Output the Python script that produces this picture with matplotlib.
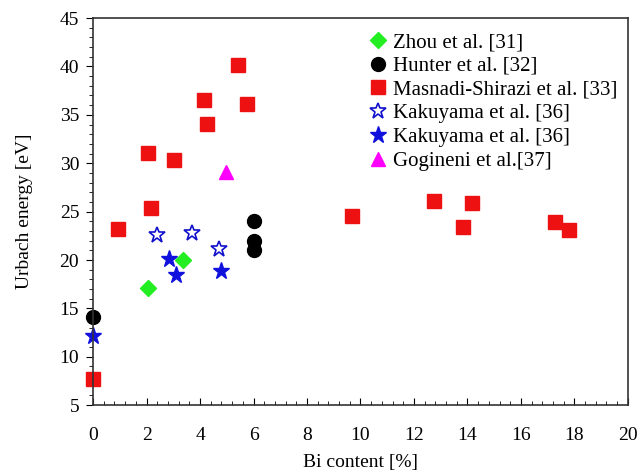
import matplotlib.pyplot as plt
from matplotlib.ticker import MultipleLocator

plt.rcParams['font.family'] = 'Liberation Serif'

# dados
zhou_x = [2.07, 3.36]
zhou_y = [17.1, 20.0]

hunter_x = [0.0, 6.0, 6.0, 6.0]
hunter_y = [14.1, 24.0, 22.0, 21.0]

masnadi_x = [0.0, 0.93, 2.06, 2.17, 3.03, 4.15, 4.26, 5.42, 5.76,
             9.68, 12.75, 13.83, 14.17, 17.27, 17.8]
masnadi_y = [7.7, 23.2, 31.1, 25.4, 30.3, 36.5, 34.1, 40.1, 36.1,
             24.5, 26.1, 23.4, 25.9, 23.9, 23.1]

kaku_open_x = [2.39, 3.7, 4.71]
kaku_open_y = [22.6, 22.8, 21.1]

kaku_fill_x = [0.0, 2.84, 3.1, 4.78]
kaku_fill_y = [12.1, 20.1, 18.4, 18.9]

gogineni_x = [4.97]
gogineni_y = [29.1]

fig = plt.figure(figsize=(6.42, 4.75), dpi=100)
ax = fig.add_axes([0.145, 0.147, 0.833, 0.815])

ax.plot(zhou_x, zhou_y, 'D', color='#22ee22', markersize=8.5, label='Zhou et al. [31]', clip_on=False)
ax.plot(hunter_x, hunter_y, 'o', color='black', markersize=10, label='Hunter et al. [32]', clip_on=False)
ax.plot(masnadi_x, masnadi_y, 's', color='#ee1111', markersize=9.5, label='Masnadi-Shirazi et al. [33]', clip_on=False)
ax.plot(kaku_open_x, kaku_open_y, '*', markerfacecolor='white', markeredgecolor='#1111cc',
        markeredgewidth=1.2, markersize=12, linestyle='none', label='Kakuyama et al. [36]', clip_on=False)
ax.plot(kaku_fill_x, kaku_fill_y, '*', color='#1111dd', markersize=12.5, label='Kakuyama et al. [36]', clip_on=False)
ax.plot(gogineni_x, gogineni_y, '^', color='#ff00ff', markersize=10, label='Gogineni et al.[37]', clip_on=False)

ax.set_xlim(0, 20)
ax.set_ylim(5, 45)
ax.xaxis.set_major_locator(MultipleLocator(2))
ax.xaxis.set_minor_locator(MultipleLocator(0.4))
ax.yaxis.set_major_locator(MultipleLocator(5))
ax.yaxis.set_minor_locator(MultipleLocator(1))

ax.tick_params(axis='x', which='both', direction='in', top=False, labelsize=14, pad=16)
ax.tick_params(axis='x', which='major', length=5)
ax.tick_params(axis='x', which='minor', length=3)
ax.tick_params(axis='y', which='both', direction='out', right=False, labelsize=14, pad=5)
ax.tick_params(axis='y', which='major', length=5)
ax.tick_params(axis='y', which='minor', length=3)

for s in ax.spines.values():
    s.set_color('#333333')
    s.set_linewidth(1.2)

ax.set_xlabel('Bi content [%]', fontsize=14, labelpad=7)
ax.set_ylabel('Urbach energy [eV]', fontsize=14, labelpad=19)

ax.legend(loc='upper left', bbox_to_anchor=(0.482, 1.0), frameon=False, fontsize=15,
          handletextpad=0.1, labelspacing=0.2, borderpad=0.2, handlelength=1.2)

fig.savefig('out.png', dpi=100)
